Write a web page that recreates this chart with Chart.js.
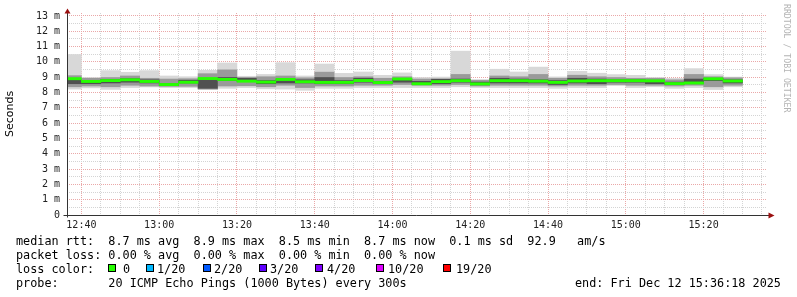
<!DOCTYPE html>
<html>
<head>
<meta charset="utf-8">
<script src="https://cdn.jsdelivr.net/npm/chart.js@4.4.1/dist/chart.umd.min.js"></script>
<style>
  body { margin: 0; background: #fff; }
  #wrap { position: relative; width: 797px; height: 297px; }
  .leg { position: absolute; font-family: "DejaVu Sans Mono", monospace; font-size: 11.8px; line-height: 14px; white-space: pre; color: #000; }
  .box { position: absolute; width: 6px; height: 6px; border: 1px solid #000; top: 264px; }
  #mark { position: absolute; left: 782px; top: 4px; writing-mode: vertical-rl; font-family: "DejaVu Sans Mono", monospace; font-size: 8.2px; color: #b4b4b4; }
</style>
</head>
<body>
<div id="wrap">
  <canvas id="smoke" width="797" height="297"></canvas>
  <div id="mark">RRDTOOL / TOBI OETIKER</div>
  <div class="leg" style="left:16px;top:234px">median rtt:  8.7 ms avg  8.9 ms max  8.5 ms min  8.7 ms now  0.1 ms sd  92.9   am/s</div>
  <div class="leg" style="left:16px;top:248px">packet loss: 0.00 % avg  0.00 % max  0.00 % min  0.00 % now</div>
  <div class="leg" id="lossrow" style="left:16px;top:262px">loss color:</div>
  <div class="leg" style="left:16px;top:276px">probe:       20 ICMP Echo Pings (1000 Bytes) every 300s</div>
  <div class="leg" style="left:575px;top:276px">end: Fri Dec 12 15:36:18 2025</div>
</div>
<script>
// 5 minute slots (start of each column)
const slots = ["12:35","12:40","12:45","12:50","12:55","13:00","13:05","13:10","13:15","13:20",
  "13:25","13:30","13:35","13:40","13:45","13:50","13:55","14:00","14:05","14:10",
  "14:15","14:20","14:25","14:30","14:35","14:40","14:45","14:50","14:55","15:00",
  "15:05","15:10","15:15","15:20","15:25"];

// values in ms
const median = [8.90, 8.72, 8.78, 8.83, 8.72, 8.52, 8.67, 8.91, 8.85, 8.74,
  8.68, 8.85, 8.70, 8.66, 8.66, 8.78, 8.65, 8.88, 8.57, 8.71,
  8.77, 8.56, 8.77, 8.77, 8.74, 8.66, 8.75, 8.77, 8.77, 8.77,
  8.76, 8.58, 8.62, 8.89, 8.75];
const maxv = [10.50, 9.00, 9.45, 9.34, 9.45, 9.10, 9.05, 9.47, 9.95, 9.08,
  9.20, 9.97, 9.10, 9.88, 9.27, 9.36, 9.14, 9.30, 9.00, 9.03,
  10.72, 8.86, 9.54, 9.36, 9.68, 9.04, 9.40, 9.28, 9.19, 9.14,
  9.00, 8.94, 9.58, 9.19, 9.03];
const hi = [9.12, 8.95, 9.00, 9.10, 8.95, 8.90, 8.92, 9.25, 9.50, 9.00,
  9.05, 9.10, 8.98, 9.35, 9.00, 9.05, 8.95, 9.05, 8.90, 8.92,
  9.20, 8.82, 9.10, 9.05, 9.20, 8.95, 9.15, 9.05, 9.00, 8.95,
  8.95, 8.85, 9.20, 9.05, 8.98];
const darkHi = [8.85, 8.75, 8.88, 8.92, 8.85, 8.60, 8.82, 8.90, 9.00, 8.95,
  8.80, 8.85, 8.85, 9.00, 8.80, 8.95, 8.75, 8.90, 8.75, 8.88,
  8.90, 8.70, 8.95, 8.90, 8.85, 8.80, 8.95, 8.90, 8.85, 8.85,
  8.82, 8.70, 8.90, 8.95, 8.85];
const darkLo = [8.55, 8.55, 8.60, 8.65, 8.60, 8.42, 8.60, 8.25, 8.75, 8.70,
  8.55, 8.60, 8.60, 8.55, 8.55, 8.65, 8.55, 8.65, 8.50, 8.55,
  8.65, 8.48, 8.60, 8.60, 8.60, 8.50, 8.60, 8.55, 8.65, 8.65,
  8.55, 8.50, 8.55, 8.75, 8.60];
const lo = [8.35, 8.40, 8.35, 8.45, 8.40, 8.38, 8.38, 8.20, 8.40, 8.42,
  8.35, 8.45, 8.30, 8.40, 8.40, 8.45, 8.45, 8.50, 8.45, 8.45,
  8.50, 8.40, 8.45, 8.45, 8.45, 8.40, 8.45, 8.45, 8.50, 8.45,
  8.45, 8.40, 8.45, 8.35, 8.45];
const minv = [8.20, 8.28, 8.18, 8.30, 8.34, 8.30, 8.30, 8.18, 8.25, 8.30,
  8.22, 8.20, 8.12, 8.25, 8.25, 8.30, 8.30, 8.30, 8.30, 8.30,
  8.35, 8.30, 8.30, 8.30, 8.30, 8.25, 8.30, 8.30, 8.43, 8.30,
  8.35, 8.25, 8.30, 8.17, 8.35];

const yTickValues = [0,1,2,3,4,5,6,7,8,9,10,11,12,13];
const xTickLabels = ["12:40","13:00","13:20","13:40","14:00","14:20","14:40","15:00","15:20"];
const startTime = "12:36:18";
const endTime = "15:36:18";

const lossLabels = ["0","1/20","2/20","3/20","4/20","10/20","19/20"];
const lossColors = ["#26ff00","#00b8ff","#0059ff","#5e00ff","#7e00ff","#dd00ff","#ff0000"];

function toMin(s) {
  const p = s.split(":").map(Number);
  return (p[0] - 12) * 60 + p[1] + (p[2] || 0) / 60;
}
function fmt(m) {
  const h = 12 + Math.floor(m / 60), mm = Math.round(m % 60);
  return h + ":" + String(mm).padStart(2, "0");
}

// legend row with coloured boxes
const boxX = [108, 146, 203, 259, 315, 376, 443];
const txtX = [123, 157, 214, 270, 327, 388, 456];
const wrap = document.getElementById("wrap");
lossLabels.forEach((l, i) => {
  const b = document.createElement("div");
  b.className = "box";
  b.style.left = boxX[i] + "px";
  b.style.background = lossColors[i];
  wrap.appendChild(b);
  const t = document.createElement("div");
  t.className = "leg";
  t.style.left = txtX[i] + "px";
  t.style.top = "262px";
  t.textContent = l;
  wrap.appendChild(t);
});

const centers = slots.map(s => toMin(s) + 2.5);
const band = (a, b) => centers.map((c, i) => ({ x: c, y: [a[i], b[i]] }));
const medH = 0.095;
const medBand = centers.map((c, i) => ({ x: c, y: [median[i] - medH, median[i] + medH] }));

const barStyle = { borderWidth: 0, barPercentage: 1.03, categoryPercentage: 1, grouped: false };

const axesPlugin = {
  id: "axes",
  afterDraw(chart) {
    const { ctx, chartArea: a } = chart;
    const x0 = Math.round(a.left) + 0.5, y0 = Math.round(a.bottom) + 0.5;
    ctx.save();
    ctx.strokeStyle = "#333";
    ctx.lineWidth = 1;
    ctx.beginPath();
    ctx.moveTo(x0, y0 + 2); ctx.lineTo(x0, a.top);
    ctx.moveTo(x0 - 4, y0); ctx.lineTo(a.right + 3, y0);
    ctx.stroke();
    ctx.fillStyle = "#9b1010";
    ctx.beginPath();
    ctx.moveTo(x0, a.top - 4.5); ctx.lineTo(x0 - 3, a.top + 0.5); ctx.lineTo(x0 + 3, a.top + 0.5);
    ctx.closePath(); ctx.fill();
    ctx.beginPath();
    ctx.moveTo(a.right + 7.5, y0); ctx.lineTo(a.right + 1.5, y0 - 3); ctx.lineTo(a.right + 1.5, y0 + 3);
    ctx.closePath(); ctx.fill();
    ctx.restore();
  }
};

Chart.defaults.font.family = "'DejaVu Sans Mono', monospace";
Chart.defaults.color = "#222";

new Chart(document.getElementById("smoke"), {
  type: "bar",
  data: {
    datasets: [
      { label: "median", data: medBand, backgroundColor: lossColors[0], ...barStyle },
      { label: "inner", data: band(darkLo, darkHi), backgroundColor: "#505050", ...barStyle },
      { label: "mid", data: band(lo, hi), backgroundColor: "#9a9a9a", ...barStyle },
      { label: "outer", data: band(minv, maxv), backgroundColor: "#d8d8d8", ...barStyle },
    ],
  },
  options: {
    responsive: false,
    animation: false,
    layout: { padding: { top: 13, right: 30, left: 0, bottom: 0 } },
    plugins: { legend: { display: false }, tooltip: { enabled: false } },
    scales: {
      x: {
        type: "linear",
        offset: false,
        min: toMin(startTime),
        max: toMin(endTime),
        afterFit: (s) => { s.height = 82; },
        afterBuildTicks: (s) => {
          const t = [];
          for (let m = toMin("12:40"); m <= toMin(endTime); m += 5) t.push({ value: m });
          s.ticks = t;
        },
        ticks: {
          autoSkip: false,
          maxRotation: 0,
          padding: 4,
          font: { size: 10 },
          callback: (v) => (xTickLabels.includes(fmt(v)) && v % 20 === 0 ? fmt(v) : ""),
        },
        grid: {
          offset: false,
          drawTicks: false,
          color: (c) => (c.tick && c.tick.value % 20 === 0 ? "#eaa8a8" : "#d4d4d4"),
        },
        border: { display: false, dash: [1, 1] },
      },
      y: {
        min: 0,
        max: 13.19,
        afterFit: (s) => { s.width = 67; },
        afterBuildTicks: (s) => {
          const t = [];
          yTickValues.forEach((v) => {
            t.push({ value: v });
            if (v < 13) t.push({ value: v + 0.5 });
          });
          s.ticks = t;
        },
        ticks: {
          autoSkip: false,
          padding: 7,
          font: { size: 10 },
          callback: (v) => (v % 1 !== 0 ? "" : v === 0 ? "0" : v + " m"),
        },
        grid: {
          drawTicks: false,
          color: (c) => (c.tick && c.tick.value % 1 === 0 ? "#eaa8a8" : "#d4d4d4"),
        },
        border: { display: false, dash: [1, 1] },
        title: {
          display: true,
          text: "Seconds",
          color: "#000",
          font: { family: "'DejaVu Sans', sans-serif", size: 11 },
          padding: { top: 4, bottom: 0 },
        },
      },
    },
  },
  plugins: [axesPlugin],
});
</script>
</body>
</html>
